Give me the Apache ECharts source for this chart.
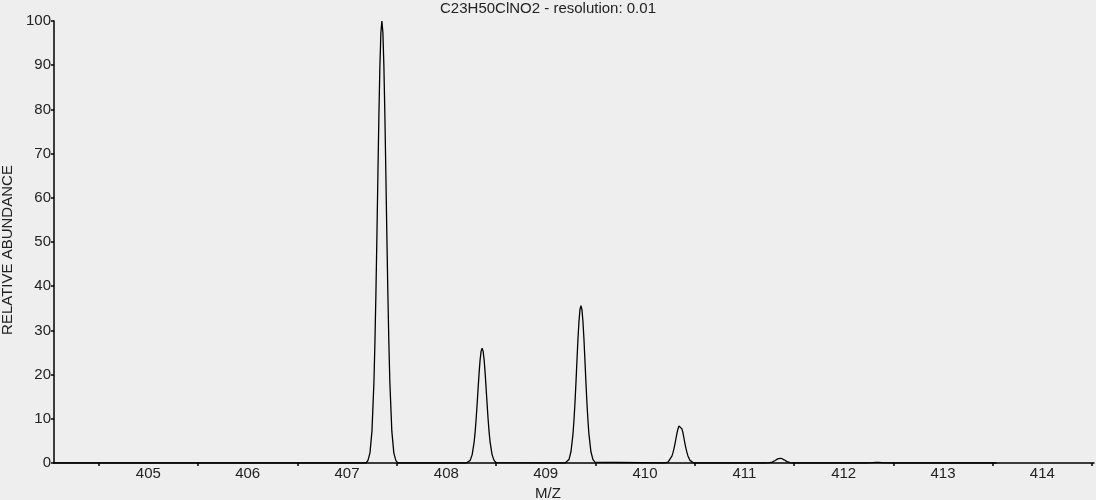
<!DOCTYPE html>
<html>
<head>
<meta charset="utf-8">
<title>C23H50ClNO2</title>
<script src="https://cdn.jsdelivr.net/npm/echarts@6/dist/echarts.min.js"></script>
<style>
  html, body { margin: 0; padding: 0; background: #eeeeee; }
  #spectrum { width: 1096px; height: 500px; }
</style>
</head>
<body>
<div id="spectrum"></div>
<script>
// m/z range of the plot and of the drawn trace
var mzRange = [404.05, 414.52];
var traceRange = [404.05, 413.54];

// peak centres (m/z)
var peakCenters = [407.351, 408.36, 409.355, 410.352, 411.36, 412.345];

// sample positions around each centre
var offsets = [-0.16, -0.14, -0.12, -0.10, -0.08, -0.07, -0.06, -0.05, -0.04, -0.03, -0.02, -0.01, 0,
  0.01, 0.02, 0.03, 0.04, 0.05, 0.06, 0.07, 0.08, 0.10, 0.12, 0.14, 0.16];

// relative abundance at each sample position
var peak407 = [0, 0.6, 2.3, 7.2, 18.4, 27.4, 38.5, 51.5, 65.4, 78.8, 89.9, 97.4, 100,
  97.4, 89.9, 78.8, 65.4, 51.5, 38.5, 27.4, 18.4, 7.2, 2.3, 0.6, 0];
var peak408 = [0, 0.1, 0.6, 1.9, 4.8, 7.1, 10.0, 13.4, 17.0, 20.5, 23.4, 25.3, 26,
  25.3, 23.4, 20.5, 17.0, 13.4, 10.0, 7.1, 4.8, 1.9, 0.6, 0.1, 0];
var peak409 = [0, 0.2, 0.8, 2.6, 6.6, 9.8, 13.7, 18.3, 23.3, 28.1, 32.0, 34.7, 35.6,
  34.7, 32.0, 28.1, 23.3, 18.3, 13.7, 9.8, 6.6, 2.6, 0.8, 0.2, 0];
var peak410 = [0, 0, 0.2, 0.6, 1.6, 2.4, 3.3, 4.4, 5.6, 6.8, 7.7, 8.4, 8.6,
  8.4, 7.7, 6.8, 5.6, 4.4, 3.3, 2.4, 1.6, 0.6, 0.2, 0, 0];
var peak411 = [0, 0, 0.02, 0.08, 0.2, 0.3, 0.42, 0.57, 0.72, 0.87, 0.99, 1.07, 1.1,
  1.07, 0.99, 0.87, 0.72, 0.57, 0.42, 0.3, 0.2, 0.08, 0.02, 0, 0];
var peak412 = [0, 0, 0, 0.01, 0.03, 0.04, 0.06, 0.08, 0.1, 0.12, 0.13, 0.15, 0.15,
  0.15, 0.13, 0.12, 0.1, 0.08, 0.06, 0.04, 0.03, 0.01, 0, 0, 0];

var peaks = [peak407, peak408, peak409, peak410, peak411, peak412];

// y ticks
var yTicks = [0, 100, 10];

var points = [[traceRange[0], 0]];
for (var p = 0; p < peaks.length; p++) {
  for (var k = 0; k < offsets.length; k++) {
    points.push([+(peakCenters[p] + offsets[k]).toFixed(3), peaks[p][k]]);
  }
}
points.push([traceRange[1], 0]);

var font = "'Liberation Sans', Arial, sans-serif";
var chart = echarts.init(document.getElementById('spectrum'));

var option = {
  backgroundColor: '#eeeeee',
  animation: false,
  title: {
    text: 'C23H50ClNO2 - resolution: 0.01',
    left: 'center',
    top: 1,
    padding: 0,
    textStyle: { fontFamily: font, fontSize: 15, fontWeight: 'normal', color: '#222' }
  },
  grid: {
    left: 54,
    right: 2,
    top: 21,
    bottom: 37,
    containLabel: false,
    outerBoundsMode: 'none'
  },
  xAxis: {
    type: 'value',
    min: mzRange[0],
    max: mzRange[1],
    minInterval: 1,
    maxInterval: 1,
    name: 'M/Z',
    nameLocation: 'middle',
    nameGap: 20,
    // name sits under the page centre, not the axis centre
    nameTextStyle: { fontFamily: font, fontSize: 15, color: '#222', padding: [0, 52, 0, 0] },
    axisLine: { onZero: false, lineStyle: { color: '#000', width: 1.5 } },
    axisTick: { show: false },
    minorTick: { show: true, splitNumber: 2, length: 3, lineStyle: { color: '#000', width: 1.5 } },
    splitLine: { show: false },
    minorSplitLine: { show: false },
    axisLabel: {
      showMinLabel: false,
      showMaxLabel: false,
      margin: 3,
      fontFamily: font,
      fontSize: 15,
      color: '#222',
      formatter: function (v) {
        return Math.abs(v - Math.round(v)) < 1e-6 ? String(Math.round(v)) : '';
      }
    }
  },
  yAxis: {
    type: 'value',
    min: yTicks[0],
    max: yTicks[1],
    interval: yTicks[2],
    name: 'RELATIVE ABUNDANCE',
    nameLocation: 'middle',
    nameGap: 37,
    nameTextStyle: { fontFamily: font, fontSize: 15, color: '#222', padding: [0, 16, 0, 0] },
    axisLine: { show: true, lineStyle: { color: '#000', width: 1.5 } },
    axisTick: { show: true, length: 3, lineStyle: { color: '#000', width: 1.5 } },
    splitLine: { show: false },
    axisLabel: { margin: 3, fontFamily: font, fontSize: 15, color: '#222' }
  },
  series: [{
    type: 'line',
    data: points,
    showSymbol: false,
    symbol: 'none',
    lineStyle: { color: '#000', width: 1.3 },
    z: 3
  }]
};

chart.setOption(option);
window.addEventListener('resize', function () {
  chart.resize();
});
</script>
</body>
</html>
